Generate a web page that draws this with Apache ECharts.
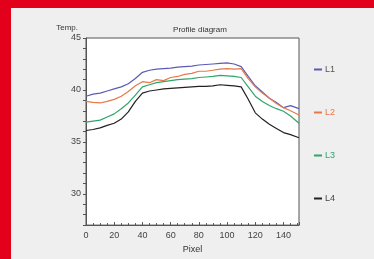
<!DOCTYPE html>
<html>
<head>
<meta charset="utf-8">
<script src="https://cdn.jsdelivr.net/npm/echarts@6/dist/echarts.min.js"></script>
<style>
  body { margin: 0; }
  #chart {
    width: 374px; height: 259px;
    background:
      linear-gradient(#e2001a, #e2001a) 0 0 / 100% 8px no-repeat,
      linear-gradient(#e2001a, #e2001a) 0 0 / 11px 100% no-repeat,
      #efefef;
  }
</style>
</head>
<body>
<div id="chart"></div>
<script>
// pixel positions along the profile line
var pixels = [0, 5, 10, 15, 20, 25, 30, 35, 40, 45, 50, 55, 60, 65, 70, 75,
              80, 85, 90, 95, 100, 105, 110, 115, 120, 125, 130, 135, 140, 145, 151];

var l1 = [39.4, 39.6, 39.7, 39.9, 40.1, 40.3, 40.6, 41.1, 41.7, 41.9, 42.0, 42.05, 42.1, 42.2, 42.25, 42.3,
          42.4, 42.45, 42.5, 42.55, 42.6, 42.5, 42.25, 41.3, 40.4, 39.8, 39.2, 38.8, 38.3, 38.5, 38.2];
var l2 = [38.9, 38.8, 38.75, 38.9, 39.1, 39.4, 39.85, 40.4, 40.8, 40.7, 41.0, 40.9, 41.2, 41.3, 41.5, 41.6,
          41.8, 41.8, 41.9, 42.0, 42.05, 42.0, 42.05, 41.1, 40.3, 39.7, 39.2, 38.7, 38.3, 38.0, 37.6];
var l3 = [36.9, 37.0, 37.1, 37.4, 37.7, 38.2, 38.75, 39.5, 40.3, 40.5, 40.7, 40.8, 40.9, 41.0, 41.05, 41.1,
          41.2, 41.25, 41.3, 41.4, 41.35, 41.3, 41.2, 40.3, 39.4, 38.9, 38.5, 38.2, 37.95, 37.5, 36.8];
var l4 = [36.1, 36.2, 36.35, 36.6, 36.8, 37.2, 37.9, 38.9, 39.7, 39.9, 40.0, 40.1, 40.15, 40.2, 40.25, 40.3,
          40.35, 40.35, 40.4, 40.5, 40.45, 40.4, 40.3, 39.1, 37.8, 37.2, 36.7, 36.3, 35.9, 35.7, 35.4];

var names = ['L1', 'L2', 'L3', 'L4'];
var colors = ['#5b5bb5', '#e8784a', '#2fa56b', '#222222'];
var textColors = ['#555555', '#e8784a', '#2fa56b', '#444444'];
var allLines = [l1, l2, l3, l4];

var chart = echarts.init(document.getElementById('chart'));

function pairs(values) {
    return values.map(function (v, i) { return [pixels[i], v]; });
}

var option = {
    animation: false,
    textStyle: { fontFamily: 'Liberation Sans, Arial, sans-serif' },
    title: {
        text: 'Profile diagram',
        left: 195, top: 21,
        textAlign: 'center',
        textStyle: { fontSize: 8, fontWeight: 'normal', color: '#333' }
    },
    legend: {
        orient: 'vertical',
        left: 309, top: 60,
        itemGap: 34,
        itemWidth: 8, itemHeight: 2,
        icon: 'rect',
        textStyle: { fontSize: 9, padding: [0, 0, 0, -2] },
        data: names.map(function (n, i) {
            return { name: n, textStyle: { color: textColors[i] } };
        })
    },
    grid: {
        left: 86, top: 38, right: 75, bottom: 33,
        show: true,
        backgroundColor: '#ffffff',
        borderColor: '#555555',
        borderWidth: 1
    },
    xAxis: {
        type: 'value',
        min: 0, max: 151, interval: 20,
        name: 'Pixel',
        nameLocation: 'middle',
        nameGap: 13,
        nameTextStyle: { fontSize: 9, color: '#333' },
        axisLine: { lineStyle: { color: '#555' } },
        axisTick: { inside: true, length: 3, lineStyle: { color: '#555' } },
        minorTick: { show: true, splitNumber: 4, length: 2, lineStyle: { color: '#555' } },
        splitLine: { show: false },
        axisLabel: {
            fontSize: 9, color: '#444', margin: 6,
            formatter: function (v) { return v % 20 === 0 ? v : ''; }
        }
    },
    yAxis: {
        type: 'value',
        min: 27, max: 45, interval: 1,
        name: 'Temp.',
        nameLocation: 'end',
        nameGap: 6,
        nameTextStyle: { fontSize: 8, color: '#333', align: 'right', padding: [0, 8, 0, 0] },
        axisLine: { show: true, lineStyle: { color: '#555' } },
        axisTick: { length: 3, lineStyle: { color: '#555' } },
        splitLine: { show: false },
        axisLabel: {
            fontSize: 9, color: '#444', margin: 5,
            formatter: function (v) { return v % 5 === 0 ? v : ''; }
        }
    },
    series: allLines.map(function (vals, i) {
        return {
            name: names[i],
            type: 'line',
            symbol: 'none',
            data: pairs(vals),
            itemStyle: { color: colors[i] },
            lineStyle: { color: colors[i], width: 1.2 }
        };
    })
};

chart.setOption(option);
</script>
</body>
</html>
